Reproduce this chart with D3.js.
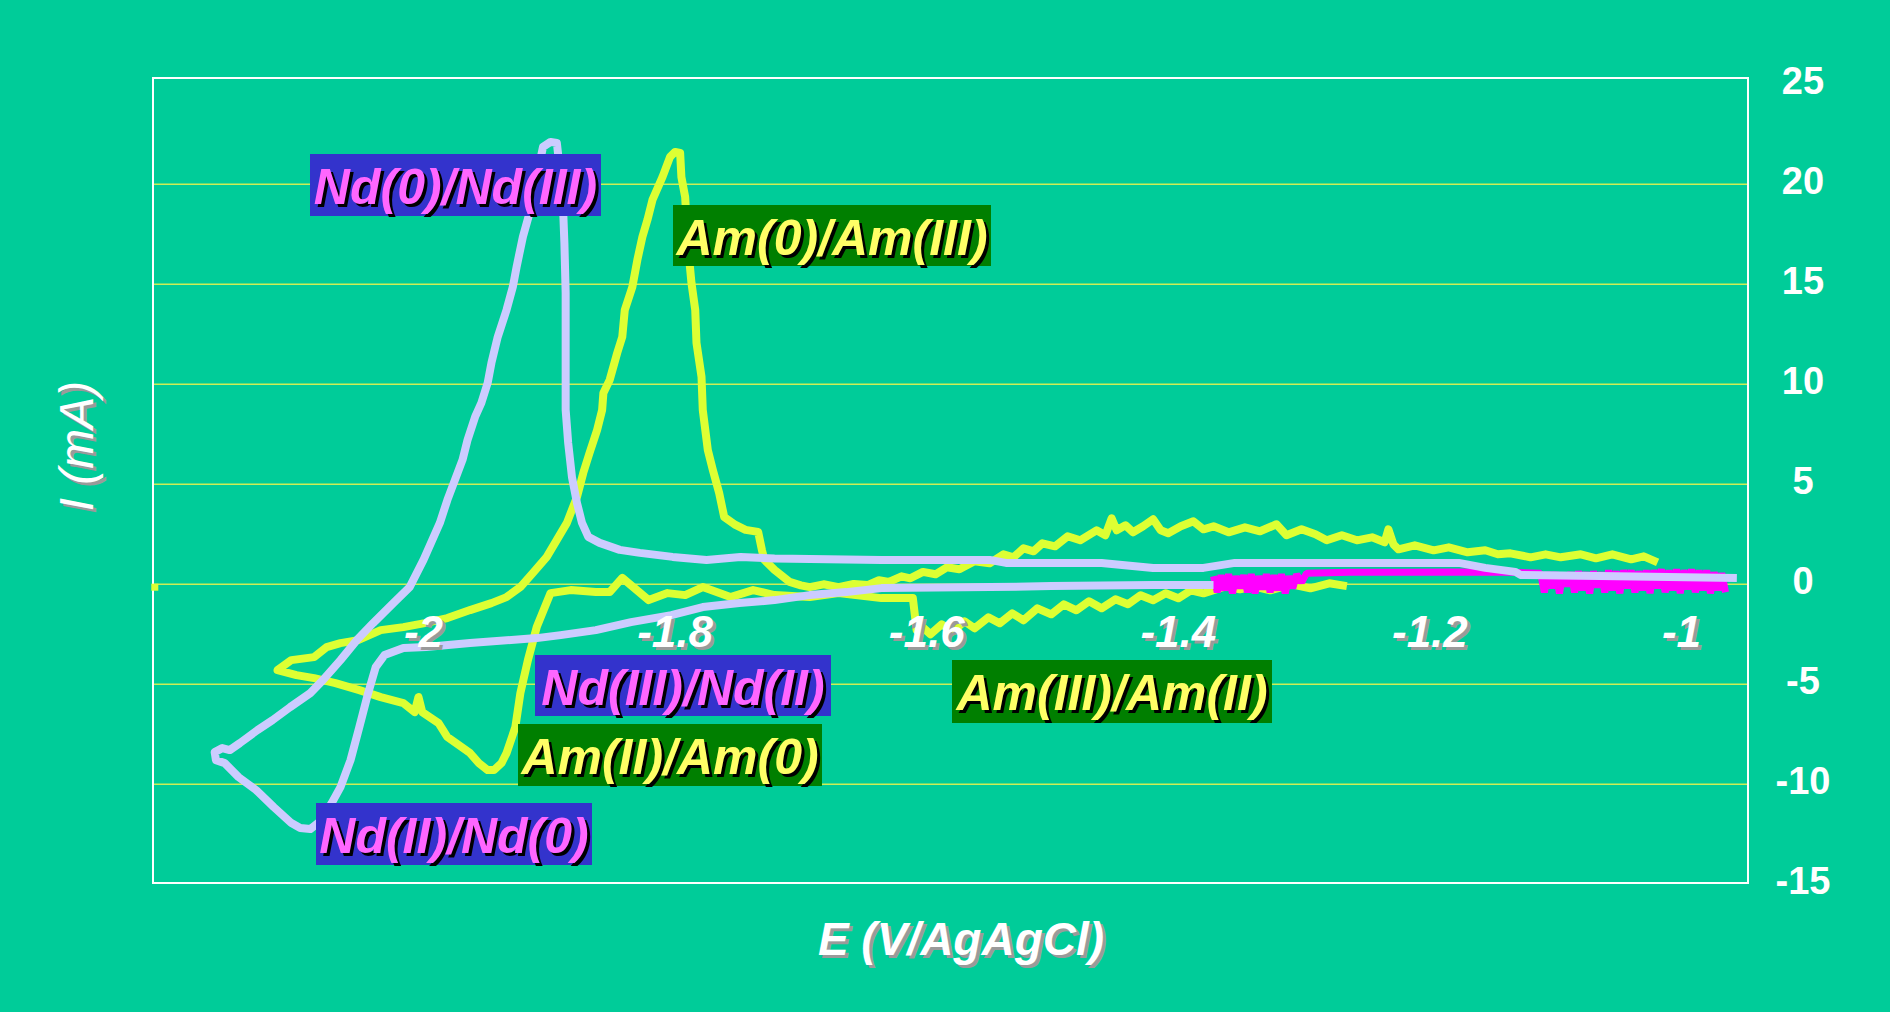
<!DOCTYPE html>
<html>
<head>
<meta charset="utf-8">
<script src="https://cdn.jsdelivr.net/npm/d3@7"></script>
<style>
    body { margin: 0; background: #00cc99; }
    svg { display: block; }
    text { font-family: "Liberation Sans", Arial, sans-serif; }
</style>
</head>
<body>
<svg class="cvChart" width="1890" height="1012"></svg>
<script>
//Cyclic voltammograms of Am and Nd, current (mA) vs potential (V/AgAgCl)

//Am curve, cathodic sweep then anodic sweep  [E, I]
var amCurve = [
    [-1.266,-0.09],[-1.280,0.05],[-1.295,-0.2],[-1.310,0.0],[-1.327,-0.3],[-1.340,-0.1],[-1.351,-0.25],
    [-1.362,-0.1],[-1.372,-0.3],[-1.380,-0.45],[-1.390,-0.3],[-1.400,-0.7],[-1.410,-0.45],[-1.420,-0.8],
    [-1.430,-0.55],[-1.440,-1.0],[-1.450,-0.75],[-1.461,-1.2],[-1.471,-0.85],[-1.481,-1.3],[-1.491,-1.0],
    [-1.501,-1.5],[-1.512,-1.2],[-1.523,-1.8],[-1.532,-1.45],[-1.542,-1.95],[-1.551,-1.65],[-1.562,-2.2],
    [-1.570,-1.85],[-1.579,-2.35],[-1.588,-2.0],[-1.597,-2.5],[-1.604,-2.1],[-1.608,-2.3],[-1.611,-0.69],
    [-1.636,-0.69],[-1.670,-0.44],[-1.693,-0.64],[-1.721,-0.54],[-1.738,-0.29],[-1.756,-0.64],[-1.778,-0.14],
    [-1.792,-0.54],[-1.806,-0.44],[-1.821,-0.79],[-1.842,0.32],[-1.852,-0.39],[-1.863,-0.39],[-1.883,-0.29],
    [-1.899,-0.44],[-1.910,-2.14],[-1.917,-3.79],[-1.923,-5.44],[-1.927,-7.14],[-1.934,-8.44],[-1.938,-8.94],
    [-1.944,-9.29],[-1.949,-9.29],[-1.956,-8.94],[-1.963,-8.44],[-1.981,-7.64],[-1.988,-6.94],[-2.001,-6.39],
    [-2.004,-5.64],[-2.007,-6.39],[-2.016,-5.94],[-2.034,-5.64],[-2.051,-5.29],[-2.070,-4.94],[-2.087,-4.69],
    [-2.101,-4.54],[-2.116,-4.29],
    [-2.105,-3.79],[-2.087,-3.64],[-2.077,-3.14],[-2.066,-2.94],[-2.052,-2.79],[-2.034,-2.29],[-2.016,-2.14],
    [-1.999,-1.94],[-1.981,-1.69],[-1.963,-1.29],[-1.946,-0.94],[-1.934,-0.64],[-1.923,-0.14],[-1.913,0.57],
    [-1.902,1.37],[-1.894,2.22],[-1.886,3.07],[-1.878,4.37],[-1.873,5.57],[-1.868,6.57],[-1.862,7.72],
    [-1.858,8.72],[-1.857,9.57],[-1.852,10.22],[-1.846,11.57],[-1.842,12.37],[-1.840,13.72],[-1.834,14.87],
    [-1.830,16.22],[-1.826,17.37],[-1.822,18.22],[-1.818,19.22],[-1.810,20.37],[-1.804,21.37],[-1.800,21.62],
    [-1.796,21.57],[-1.795,20.37],[-1.792,19.37],[-1.790,17.07],[-1.787,15.07],[-1.784,13.72],[-1.783,12.07],
    [-1.779,10.37],[-1.778,8.72],[-1.776,7.72],[-1.774,6.72],[-1.770,5.72],[-1.765,4.57],[-1.761,3.37],
    [-1.752,2.97],[-1.744,2.72],[-1.734,2.62],[-1.731,1.72],[-1.729,1.22],[-1.721,0.72],[-1.709,0.12],
    [-1.700,-0.05],[-1.693,-0.14],[-1.682,0.0],[-1.670,-0.14],[-1.658,0.02],[-1.647,-0.04],[-1.638,0.2],
    [-1.630,0.12],[-1.620,0.4],[-1.613,0.3],[-1.603,0.62],[-1.593,0.5],[-1.584,0.85],[-1.574,0.75],
    [-1.562,1.15],[-1.550,1.05],[-1.539,1.5],[-1.531,1.35],[-1.523,1.8],[-1.515,1.65],[-1.508,2.05],
    [-1.498,1.9],[-1.488,2.4],[-1.478,2.2],[-1.465,2.7],[-1.458,2.45],[-1.453,3.3],[-1.449,2.7],[-1.442,2.95],
    [-1.436,2.6],[-1.428,2.9],[-1.420,3.25],[-1.414,2.7],[-1.408,2.55],[-1.398,2.9],[-1.388,3.15],[-1.380,2.75],
    [-1.372,2.9],[-1.360,2.6],[-1.347,2.85],[-1.335,2.65],[-1.322,3.0],[-1.314,2.45],[-1.302,2.75],
    [-1.291,2.5],[-1.282,2.2],[-1.270,2.45],[-1.258,2.2],[-1.246,2.35],[-1.236,2.1],[-1.233,2.75],
    [-1.229,2.0],[-1.225,1.75],[-1.212,1.95],[-1.197,1.7],[-1.185,1.85],[-1.170,1.6],[-1.156,1.7],
    [-1.146,1.5],[-1.136,1.55],[-1.120,1.35],[-1.108,1.5],[-1.096,1.35],[-1.080,1.5],[-1.068,1.3],
    [-1.055,1.5],[-1.040,1.25],[-1.030,1.4],[-1.019,1.1]
];
//single stray Am point sitting on the left edge
var amStray = [[-2.214,-0.12]];

//Nd curve  [E, I]
var ndCurve = [
    [-1.372,-0.04],[-1.420,-0.04],[-1.501,-0.09],[-1.550,-0.14],[-1.636,-0.19],[-1.664,-0.39],[-1.693,-0.54],
    [-1.721,-0.79],[-1.749,-0.94],[-1.778,-1.14],[-1.803,-1.54],[-1.835,-1.89],[-1.863,-2.29],[-1.891,-2.54],
    [-1.910,-2.69],[-1.963,-2.94],[-1.998,-3.14],[-2.016,-3.19],[-2.031,-3.54],[-2.038,-4.14],[-2.044,-5.44],
    [-2.051,-7.14],[-2.058,-8.79],[-2.066,-10.14],[-2.073,-10.94],[-2.081,-11.79],[-2.090,-12.24],
    [-2.098,-12.19],[-2.105,-11.94],[-2.119,-11.14],[-2.133,-10.29],[-2.147,-9.64],[-2.158,-8.94],
    [-2.165,-8.79],[-2.166,-8.39],[-2.160,-8.19],
    [-2.154,-8.29],[-2.146,-7.94],[-2.132,-7.29],[-2.120,-6.79],[-2.106,-6.14],[-2.090,-5.44],[-2.080,-4.79],
    [-2.066,-3.79],[-2.053,-2.79],[-2.040,-1.94],[-2.024,-0.94],[-2.011,-0.14],[-2.000,1.22],[-1.987,3.07],
    [-1.981,4.22],[-1.975,5.22],[-1.969,6.22],[-1.965,7.22],[-1.959,8.37],[-1.954,9.07],[-1.949,10.07],
    [-1.946,11.07],[-1.941,12.37],[-1.934,13.72],[-1.929,14.87],[-1.926,15.87],[-1.921,17.37],[-1.915,18.72],
    [-1.910,20.37],[-1.905,21.87],[-1.899,22.12],[-1.894,22.07],[-1.891,20.37],[-1.889,18.72],[-1.888,17.07],
    [-1.887,14.57],[-1.887,11.22],[-1.887,8.72],[-1.885,7.07],[-1.882,5.37],[-1.878,4.07],[-1.874,3.07],
    [-1.869,2.37],[-1.860,2.07],[-1.844,1.72],[-1.828,1.57],[-1.802,1.37],[-1.775,1.22],[-1.748,1.37],
    [-1.721,1.29],[-1.636,1.22],[-1.550,1.22],[-1.537,1.07],[-1.461,1.07],[-1.420,0.82],[-1.380,0.82],
    [-1.355,1.07],[-1.298,1.07],[-1.177,1.07],[-1.156,0.82],[-1.132,0.62],[-1.128,0.47],[-1.065,0.42],
    [-0.956,0.32]
];

//Third (magenta) trace near zero current  [E, I]
var blankCurve = [
    [-1.372,0.4],[-1.369,-0.4],[-1.366,0.45],[-1.363,-0.3],[-1.360,0.5],[-1.357,-0.45],[-1.354,0.4],
    [-1.351,-0.2],[-1.348,0.45],[-1.345,-0.4],[-1.342,0.5],[-1.339,-0.45],[-1.336,0.4],[-1.333,-0.25],
    [-1.330,0.5],[-1.327,-0.4],[-1.324,0.45],[-1.321,-0.3],[-1.318,0.5],[-1.315,-0.45],[-1.312,0.4],
    [-1.309,-0.2],[-1.306,0.5],[-1.302,0.1],[-1.298,0.55],[-1.264,0.6],[-1.224,0.6],[-1.184,0.62],
    [-1.136,0.6],[-1.112,0.55],[-1.109,-0.4],[-1.106,0.6],[-1.103,-0.2],[-1.100,0.6],[-1.097,-0.45],
    [-1.094,0.55],[-1.091,-0.1],[-1.088,0.6],[-1.085,-0.4],[-1.082,0.65],[-1.079,-0.3],[-1.076,0.6],
    [-1.073,-0.45],[-1.070,0.65],[-1.067,-0.15],[-1.064,0.6],[-1.061,-0.4],[-1.058,0.7],[-1.055,-0.3],
    [-1.052,0.65],[-1.049,-0.45],[-1.046,0.7],[-1.043,-0.2],[-1.040,0.7],[-1.037,-0.4],[-1.034,0.65],
    [-1.031,-0.3],[-1.028,0.7],[-1.025,-0.45],[-1.022,0.7],[-1.019,-0.2],[-1.016,0.75],[-1.013,-0.4],
    [-1.010,0.7],[-1.007,-0.3],[-1.004,0.75],[-1.001,-0.45],[-0.998,0.7],[-0.995,-0.25],[-0.992,0.75],
    [-0.989,-0.4],[-0.986,0.7],[-0.983,-0.3],[-0.980,0.7],[-0.977,-0.45],[-0.974,0.6],[-0.971,-0.3],
    [-0.968,0.55],[-0.965,-0.4]
];

//Axis ticks
var xTicks = [-2, -1.8, -1.6, -1.4, -1.2, -1];
var xTickLabels = ["-2", "-1.8", "-1.6", "-1.4", "-1.2", "-1"];
var yTicks = [25, 20, 15, 10, 5, 0, -5, -10, -15];
var yGrid = [20, 15, 10, 5, 0, -5, -10];

//Annotation texts (Nd ones on blue, Am ones on green)
var annoTexts = ["Nd(0)/Nd(III)", "Am(0)/Am(III)", "Nd(III)/Nd(II)", "Am(II)/Am(0)", "Nd(II)/Nd(0)", "Am(III)/Am(II)"];
var annoKinds = ["nd", "am", "nd", "am", "nd", "am"];

var createCVChart = function () {
    var svg = d3.select("svg.cvChart");
    var plot = {left: 153, top: 78, right: 1748, bottom: 883};

    var x = d3.scaleLinear().domain([-2, -1]).range([423.5, 1681.5]);
    var y = d3.scaleLinear().domain([-15, 25]).range([884.3, 84.3]);

    //Colors
    var colorAm = "#ddff33",
        colorNd = "#ccccff",
        colorBlank = "#ff00ff",
        colorGrid = "#ccee55";

    svg.append("rect")
        .attr("width", 1890).attr("height", 1012)
        .attr("fill", "#00cc99");

    //Gridlines
    svg.append("g").selectAll("line")
        .data(yGrid)
        .enter().append("line")
        .attr("x1", plot.left).attr("x2", plot.right)
        .attr("y1", function(d) { return y(d); })
        .attr("y2", function(d) { return y(d); })
        .attr("stroke", colorGrid)
        .attr("stroke-width", 1.6);

    //Plot border
    svg.append("rect")
        .attr("x", plot.left).attr("y", plot.top)
        .attr("width", plot.right - plot.left)
        .attr("height", plot.bottom - plot.top)
        .attr("fill", "none")
        .attr("stroke", "#ffffff")
        .attr("stroke-width", 2);

    var line = d3.line()
        .x(function(d) { return x(d[0]); })
        .y(function(d) { return y(d[1]); });

    //Series, yellow under magenta under lavender
    svg.append("path")
        .attr("d", line(amCurve))
        .attr("fill", "none")
        .attr("stroke", colorAm)
        .attr("stroke-width", 8)
        .attr("stroke-linejoin", "round");

    svg.selectAll("rect.stray")
        .data(amStray)
        .enter().append("rect")
        .attr("class", "stray")
        .attr("x", function(d) { return x(d[0]) - 3; })
        .attr("y", function(d) { return y(d[1]) - 3; })
        .attr("width", 7).attr("height", 7)
        .attr("fill", colorAm);

    svg.append("path")
        .attr("d", line(blankCurve))
        .attr("fill", "none")
        .attr("stroke", colorBlank)
        .attr("stroke-width", 7)
        .attr("stroke-linejoin", "bevel");

    svg.append("path")
        .attr("d", line(ndCurve))
        .attr("fill", "none")
        .attr("stroke", colorNd)
        .attr("stroke-width", 8)
        .attr("stroke-linejoin", "round");

    //X tick labels sit just under the zero line, with grey shadow
    var xLab = svg.append("g")
        .attr("font-size", "44px")
        .attr("font-weight", "bold")
        .attr("font-style", "italic")
        .attr("text-anchor", "middle");
    [["#9a9a9a", 3], ["#ffffff", 0]].forEach(function(s) {
        xLab.append("g").selectAll("text")
            .data(xTicks)
            .enter().append("text")
            .attr("x", function(d) { return x(d) + s[1]; })
            .attr("y", 647 + s[1])
            .attr("fill", s[0])
            .text(function(d, i) { return xTickLabels[i]; });
    });

    //Y tick labels on the right
    svg.append("g")
        .attr("font-size", "38px")
        .attr("font-weight", "bold")
        .attr("text-anchor", "middle")
        .selectAll("text")
        .data(yTicks)
        .enter().append("text")
        .attr("x", 1803)
        .attr("y", function(d) { return y(d) + 10; })
        .attr("fill", "#ffffff")
        .text(function(d) { return d; });

    //Axis titles
    [["#9a9a9a", 3], ["#ffffff", 0]].forEach(function(s) {
        svg.append("text")
            .attr("x", 961 + s[1])
            .attr("y", 955 + s[1])
            .attr("text-anchor", "middle")
            .attr("font-size", "46px")
            .attr("font-weight", "bold")
            .attr("font-style", "italic")
            .attr("fill", s[0])
            .text("E (V/AgAgCl)");
        svg.append("text")
            .attr("transform", "translate(" + (93 + s[1]) + "," + (446 + s[1]) + ") rotate(-90)")
            .attr("text-anchor", "middle")
            .attr("font-size", "48px")
            .attr("font-style", "italic")
            .attr("fill", s[0])
            .text("I (mA)");
    });

    //Annotation boxes (pixel layout)
    var annoBoxes = [
        {x: 310, y: 154, w: 291, h: 62},
        {x: 673, y: 205, w: 318, h: 61},
        {x: 535, y: 655, w: 296, h: 61},
        {x: 518, y: 724, w: 304, h: 62},
        {x: 316, y: 803, w: 276, h: 62},
        {x: 952, y: 660, w: 320, h: 63}
    ];
    var kindStyle = {
        nd: {fill: "#3333cc", color: "#ff66ff"},
        am: {fill: "#007f00", color: "#ffff66"}
    };
    var anno = svg.append("g").selectAll("g")
        .data(annoTexts)
        .enter().append("g")
        .attr("transform", function(d, i) { return "translate(" + annoBoxes[i].x + "," + annoBoxes[i].y + ")"; });
    anno.append("rect")
        .attr("width", function(d, i) { return annoBoxes[i].w; })
        .attr("height", function(d, i) { return annoBoxes[i].h; })
        .attr("fill", function(d, i) { return kindStyle[annoKinds[i]].fill; });
    [["#000000", 3], [null, 0]].forEach(function(s) {
        anno.append("text")
            .attr("x", function(d, i) { return annoBoxes[i].w / 2 + s[1]; })
            .attr("y", 50 + s[1])
            .attr("text-anchor", "middle")
            .attr("font-size", "50px")
            .attr("font-weight", "bold")
            .attr("font-style", "italic")
            .attr("fill", function(d, i) { return s[0] || kindStyle[annoKinds[i]].color; })
            .text(function(d) { return d; });
    });
};
createCVChart();
</script>
</body>
</html>
